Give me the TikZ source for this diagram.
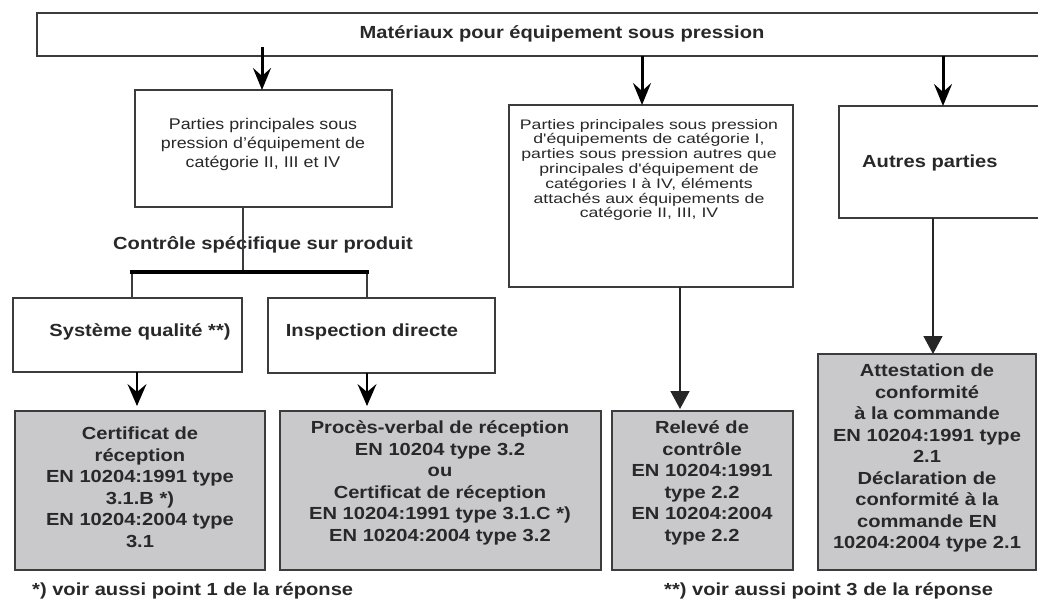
\documentclass[tikz,border=0pt]{standalone}
\usepackage{fontspec}
\setmainfont[FakeStretch=1.15]{Liberation Sans}
\newfontfamily\widerfont[FakeStretch=1.28]{Liberation Sans}
\usetikzlibrary{arrows.meta}
\definecolor{txt}{RGB}{40,40,42}
\definecolor{edge}{RGB}{60,60,62}
\definecolor{greyfill}{RGB}{201,201,204}
\tikzset{
  box/.style={draw=edge, line width=1.8pt, fill=white, inner sep=0pt, outer sep=0pt},
  greybox/.style={box, fill=greyfill},
  boldtxt/.style={text=txt, font=\fontsize{17.5}{21.5}\selectfont\bfseries, align=center, inner sep=0pt},
  regtxt/.style={text=txt, font=\fontsize{15.5}{19}\selectfont, align=center, inner sep=0pt},
  smalltxt/.style={text=txt, font=\widerfont\fontsize{13.8}{14.8}\selectfont, align=center, inner sep=0pt},
  bigarrow/.style={draw=black, line width=3pt, -{Stealth[length=22pt,width=18pt,inset=8pt]}},
  midarrow/.style={draw=black, line width=2pt, -{Stealth[length=22pt,width=19pt,inset=8pt]}},
  triarrow/.style={draw=black!85, line width=1.6pt, -{Triangle[length=18pt,width=19pt]}},
  link/.style={draw=edge, line width=1.5pt},
  barline/.style={draw=black, line width=4pt}
}
\begin{document}
\begin{tikzpicture}[x=1pt,y=-1pt]
\useasboundingbox (0,0) rectangle (1038,603);
\clip (0,0) rectangle (1038,603);
% boxes
\node[box, minimum width=1013pt, minimum height=43pt] (top) at (543.5,34.5) {};
\node[boldtxt] (toptxt) at (562,34) {Matériaux pour équipement sous pression};

\node[box, minimum width=257pt, minimum height=117pt] (b1) at (263.5,148.5) {};
\node[regtxt] (b1t) at (263,144) {Parties principales sous\\pression d'équipement de\\catégorie II, III et IV};

\node[box, minimum width=284pt, minimum height=182pt] (b3) at (651,196) {};
\node[smalltxt] (b3t) at (649,170) {Parties principales sous pression\\d'équipements de catégorie I,\\parties sous pression autres que\\principales d'équipement de\\catégories I à IV, éléments\\attachés aux équipements de\\catégorie II, III, IV};

\node[box, minimum width=211pt, minimum height=112pt] (b4) at (944.5,162) {};
\node[boldtxt, anchor=west] (b4t) at (862,163) {Autres parties};

\node[boldtxt] (ctrl) at (263,245) {Contrôle spécifique sur produit};

\node[box, minimum width=229pt, minimum height=74pt] (sq) at (127.5,335) {};
\node[boldtxt] (sqt) at (140,332) {Système qualité **)};
\node[box, minimum width=227pt, minimum height=75pt] (insp) at (381.5,335.5) {};
\node[boldtxt] (inspt) at (372,332) {Inspection directe};

\node[greybox, minimum width=250pt, minimum height=159pt] (g1) at (140,490.5) {};
\node[boldtxt] (g1t) at (140,487) {Certificat de\\réception\\EN 10204:1991 type\\3.1.B *)\\EN 10204:2004 type\\3.1};
\node[greybox, minimum width=321pt, minimum height=159pt] (g2) at (440.5,490.5) {};
\node[boldtxt] (g2t) at (440,483) {Procès-verbal de réception\\EN 10204 type 3.2\\ou\\Certificat de réception\\EN 10204:1991 type 3.1.C *)\\EN 10204:2004 type 3.2};
\node[greybox, minimum width=181pt, minimum height=159pt] (g3) at (702.5,490.5) {};
\node[boldtxt] (g3t) at (702,483) {Relevé de\\contrôle\\EN 10204:1991\\type 2.2\\EN 10204:2004\\type 2.2};
\node[greybox, minimum width=218pt, minimum height=216pt] (g4) at (927,462) {};
\node[boldtxt] (g4t) at (927,458) {Attestation de\\conformité\\à la commande\\EN 10204:1991 type\\2.1\\Déclaration de\\conformité à la\\commande EN\\10204:2004 type 2.1};

\node[boldtxt, anchor=west] (fn1) at (32,591) {*) voir aussi point 1 de la réponse};
\node[boldtxt, anchor=west] (fn2) at (664,591) {**) voir aussi point 3 de la réponse};

% connectors
\coordinate (a1s) at (262,47);
\coordinate (x2) at (642,0);
\coordinate (x3) at (943,0);
\draw[bigarrow] (a1s) -- (a1s |- b1.north);
\draw[bigarrow] (top.south -| x2) -- (b3.north -| x2);
\draw[bigarrow] (top.south -| x3) -- (b4.north -| x3);

\coordinate (barL) at (132,272);
\coordinate (barR) at (367,272);
\coordinate (barM) at (243,272);
\draw[link] (b1.south -| barM) -- (barM);
\draw[link] (barL) -- (barL |- sq.north);
\draw[link] (barR) -- (barR |- insp.north);
\draw[barline] ([xshift=-2pt]barL) -- ([xshift=2pt]barR);

\coordinate (x5) at (137,0);
\coordinate (x6) at (367,0);
\coordinate (x7) at (680,0);
\coordinate (x8) at (933,0);
\draw[midarrow, shorten >=5pt] (sq.south -| x5) -- (g1.north -| x5);
\draw[midarrow, shorten >=5pt] (insp.south -| x6) -- (g2.north -| x6);
\draw[triarrow, shorten >=2pt] (b3.south -| x7) -- (g3.north -| x7);
\draw[triarrow] (b4.south -| x8) -- (g4.north -| x8);
\end{tikzpicture}
\end{document}
